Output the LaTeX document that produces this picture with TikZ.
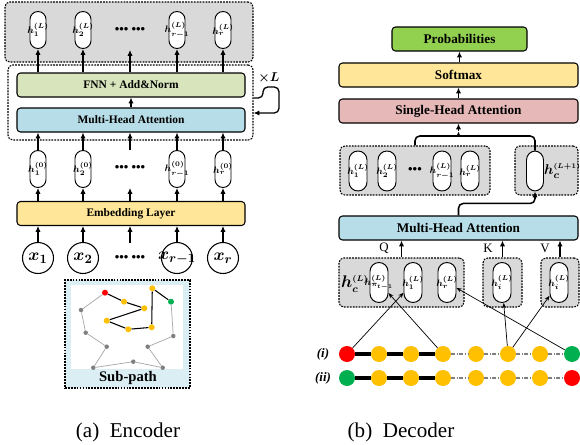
\documentclass[tikz,border=0pt]{standalone}
\usepackage{amsmath,amssymb}
\usepackage{fontspec}
\setmainfont{Liberation Serif}
\usepackage{tikz}
\usetikzlibrary{arrows.meta}
\def\u{0.03cm}
\definecolor{setgray}{HTML}{D9D9D9}
\definecolor{fnnc}{HTML}{D8E4BC}
\definecolor{attc}{HTML}{B7DEE8}
\definecolor{embc}{HTML}{FFE699}
\definecolor{shac}{HTML}{E6B9B8}
\definecolor{probc}{HTML}{92D050}
\definecolor{subbg}{HTML}{DAEEF3}
\definecolor{dred}{HTML}{FF0000}
\definecolor{dyel}{HTML}{FFC000}
\definecolor{dgrn}{HTML}{00B050}
\definecolor{dgray}{HTML}{808080}
\definecolor{lgray}{HTML}{A6A6A6}
% labels are kept zero-width so the ovals and circles keep their size
\newcommand{\hlab}[2]{\makebox[0pt]{$h^{(#2)}_{#1}$}}
\newcommand{\xlab}[1]{\makebox[0pt]{$x_{#1}$}}
\tikzset{
  box/.style={draw=black, line width=0.9pt, rounded corners=3pt, inner sep=0pt, minimum height=24*\u},
  encbox/.style={box, minimum width=228*\u, font=\fontsize{9.8}{11}\selectfont\bfseries},
  decbox/.style={box, minimum width=239*\u, font=\fontsize{11.3}{13}\selectfont\bfseries},
  setbox/.style={draw=black, fill=setgray, line width=0.9pt, dash pattern=on 1.5pt off 1pt, rounded corners=4pt, inner sep=0pt},
  oval/.style={draw=black, fill=white, line width=0.8pt, inner sep=0pt, minimum width=16*\u, minimum height=37*\u, rounded corners=0.24cm, font=\fontsize{8.5}{9}\selectfont\boldmath},
  doval/.style={oval, minimum width=18*\u, minimum height=40*\u, rounded corners=0.27cm},
  xcirc/.style={circle, draw=black, fill=white, line width=0.9pt, minimum size=31*\u, inner sep=0pt, font=\fontsize{15.5}{16}\selectfont\boldmath},
  dotrow/.style={font=\fontsize{11}{12}\selectfont\bfseries},
  arr/.style={-{Latex[length=5pt,width=4.5pt]}, line width=1.3pt},
  thinarr/.style={-{Stealth[length=4.5pt,width=3.5pt]}, line width=0.6pt},
  pt/.style={circle, inner sep=0pt, minimum size=6*\u},
  gpt/.style={circle, inner sep=0pt, minimum size=4.5*\u, fill=dgray},
  rowpt/.style={circle, inner sep=0pt, minimum size=16*\u},
  biglab/.style={font=\fontsize{13.5}{15}\selectfont\boldmath, inner sep=0pt},
  captext/.style={font=\fontsize{18}{20}\selectfont}
}
\begin{document}
\begin{tikzpicture}[x=\u, y=-\u]
  \useasboundingbox (0,0) rectangle (580,445);

  % ---------------- encoder ----------------
  \node[setbox, minimum width=248*\u, minimum height=60*\u] (eout) at (129,32) {};
  \node[draw=black, line width=0.9pt, dash pattern=on 1.5pt off 1pt, rounded corners=4pt,
        minimum width=245*\u, minimum height=75*\u] (eblk) at (130.5,102.5) {};
  \node[encbox, fill=fnnc] (fnn) at (131,85) {FNN + Add\&Norm};
  \node[encbox, fill=attc] (emha) at (131,120) {Multi-Head Attention};
  \node[encbox, fill=embc] (emb) at (131,213.5) {Embedding Layer};

  \foreach \n/\x/\s in {a/38/1, b/83/2, c/177/{r-1}, d/223/r}{
    \node[oval] (hL\n) at (\x,30) {\hlab{\s}{L}};
    \node[oval] (hz\n) at (\x,169) {\hlab{\s}{0}};
    \node[xcirc] (x\n) at (\x,258) {\xlab{\s}};
    \draw[arr] (fnn.north -| hL\n.south) -- (hL\n.south);
    \draw[arr] (hz\n.north) -- (emha.south -| hz\n.north);
    \draw[arr] (emb.north -| hz\n.south) -- (hz\n.south);
    \draw[arr] (x\n.north) -- (emb.south -| x\n.north);
  }
  \node[dotrow] (dL) at (130,30) {\textbullet\textbullet\textbullet\ \textbullet\textbullet\textbullet};
  \node[dotrow] (dz) at (130,168) {\textbullet\textbullet\textbullet\ \textbullet\textbullet\textbullet};
  \node[dotrow] (dx) at (130,258) {\textbullet\textbullet\textbullet\ \textbullet\textbullet\textbullet};
  \coordinate (mL) at (130,50);
  \coordinate (mz) at (130,150);
  \coordinate (mz2) at (130,188);
  \coordinate (mx) at (130,243);
  \draw[arr] (fnn.north -| mL) -- (mL);
  \draw[arr] (emha.north -| fnn.south) -- (fnn.south);
  \draw[arr] (mz) -- (emha.south -| mz);
  \draw[arr] (emb.north -| mz2) -- (mz2);
  \draw[arr] (mx) -- (emb.south -| mx);

  % repeat loop
  \node[font=\fontsize{11}{12}\selectfont\boldmath] (rep) at (269,78) {$\times L$};
  \draw[-{Latex[length=5pt,width=4.5pt]}, line width=1.1pt, rounded corners=4pt]
    (eblk.east |- 0,98) -- (263,98) -- (263,87) -- (279,87) -- (279,113) -- (eblk.east |- 0,113);

  % sub-path
  \node[draw=black, fill=subbg, line width=0.9pt, dash pattern=on 1.5pt off 1pt,
        minimum width=125*\u, minimum height=108*\u] (sub) at (127.5,334) {};
  \fill[white] (71,285) rectangle (183,369);
  \node[font=\fontsize{12.5}{14}\selectfont\bfseries] (subl) at (128,378) {Sub-path};
  \foreach \n/\x/\y in {g1/81/310, g2/85.7/332.7, g3/106.7/346.7, g4/93.3/367.7,
                        g5/133.3/361.7, g6/162.7/367.7, g7/147.7/346.7, g8/173.3/336}
    \node[gpt] (\n) at (\x,\y) {};
  \node[pt, fill=dred] (sr) at (105,292.7) {};
  \foreach \n/\x/\y in {s1/124/301.7, s2/144.3/308.3, s3/106.7/320.7, s4/128.3/329.3,
                        s5/151.7/327.3, s6/152.3/288.3}
    \node[pt, fill=dyel] (\n) at (\x,\y) {};
  \node[pt, fill=dgrn] (sg) at (171,301.7) {};
  \foreach \a/\b in {sr/g1, g1/g2, g2/g3, g3/g4, g4/g5, g5/g6, g6/g7, g7/g8, g8/sg}
    \draw[lgray, line width=0.6pt] (\a) -- (\b);
  \foreach \a/\b in {sr/s1, s1/s2, s2/s3, s3/s4, s4/s5, s5/s6, s6/sg}
    \draw[black, line width=0.9pt] (\a) -- (\b);

  % ---------------- decoder ----------------
  \node[box, fill=probc, minimum width=135*\u, font=\fontsize{11.3}{13}\selectfont\bfseries] (prob) at (459.5,39) {Probabilities};
  \node[decbox, fill=embc] (soft) at (458.5,75) {Softmax};
  \node[decbox, fill=shac] (sha) at (458.5,111) {Single-Head Attention};
  \draw[arr] (soft.north -| prob.south) -- (prob.south);
  \draw[arr] (sha.north) -- (soft.south);

  \node[setbox, minimum width=150*\u, minimum height=49*\u] (hset) at (415,170.5) {};
  \node[setbox, minimum width=63*\u, minimum height=49*\u] (hcbox) at (546.5,170.5) {};
  \foreach \n/\x/\s in {a/358/1, b/387/2, c/442/{r-1}, d/470/r}
    \node[doval] (ho\n) at (\x,171) {\hlab{\s}{L}};
  \node[dotrow] (dh) at (415,170) {\textbullet\textbullet\textbullet};
  \node[doval, minimum width=17*\u] (hcn) at (535,171) {};
  \node[biglab, font=\fontsize{13}{14}\selectfont\boldmath, anchor=west] (hcl) at (544,171) {$h_c^{\scriptscriptstyle(L+1)}$};

  % brace into single-head attention
  \coordinate (btip) at (458.5,131);
  \draw[line width=1.3pt, rounded corners=4pt] (hset.north) |- (453.5,136)
    .. controls (457.5,136) .. (btip) .. controls (459.5,136) .. (463.5,136) -| (hcn.north);
  \draw[arr] (btip) -- (sha.south);

  \node[decbox, fill=attc] (dmha) at (458.5,228) {Multi-Head Attention};
  \draw[arr, rounded corners=4pt] (dmha.north) -- ++(0,-12) -| (hcn.south);

  \node[setbox, minimum width=125*\u, minimum height=49*\u] (qbox) at (401.5,282.5) {};
  \node[setbox, minimum width=39*\u, minimum height=49*\u] (kbox) at (502.5,282.5) {};
  \node[setbox, minimum width=38*\u, minimum height=49*\u] (vbox) at (560,282.5) {};
  \node[biglab, anchor=west] (hcq) at (341,284) {$h_c^{\scriptscriptstyle(L)}$};
  \foreach \n/\x/\s in {a/379/{\pi_{t-1}}, b/413/1, c/447/r}
    \node[doval] (qo\n) at (\x,282.5) {\hlab{\s}{L}};
  \node[doval] (ko) at (502,282.5) {\hlab{i}{L}};
  \node[doval] (vo) at (559,282.5) {\hlab{i}{L}};
  \draw[arr] (qbox.north) -- (dmha.south -| qbox.north);
  \draw[arr] (kbox.north) -- (dmha.south -| kbox.north);
  \draw[arr] (vbox.north) -- (dmha.south -| vbox.north);
  \node[font=\fontsize{11}{12}\selectfont] (ql) at (384,248) {Q};
  \node[font=\fontsize{11}{12}\selectfont] (kl) at (488,248) {K};
  \node[font=\fontsize{11}{12}\selectfont] (vl) at (545,248) {V};

  % tour rows
  \node[font=\fontsize{11}{12}\selectfont\bfseries\itshape] (ri) at (323,354) {(i)};
  \node[font=\fontsize{11}{12}\selectfont\bfseries\itshape] (rii) at (323,378) {(ii)};
  \foreach \i/\x/\c/\d in {1/347/dred/dgrn, 2/379/dyel/dyel, 3/411/dyel/dyel, 4/443/dyel/dyel,
                           5/476/dyel/dyel, 6/508/dyel/dyel, 7/540/dyel/dyel, 8/572/dgrn/dred}{
    \node[rowpt, fill=\c] (a\i) at (\x,354) {};
    \node[rowpt, fill=\d] (b\i) at (\x,378) {};
  }
  \foreach \r in {a,b}{
    \foreach \p/\q in {1/2, 2/3, 3/4}
      \draw[line width=3.5pt] (\r\p) -- (\r\q);
    \foreach \p/\q in {4/5, 5/6, 6/7, 7/8}
      \draw[dgray, line width=1.1pt, dash pattern=on 3pt off 1.5pt on 1pt off 1.5pt] (\r\p) -- (\r\q);
  }
  \draw[thinarr] (a1) -- (qob);
  \draw[thinarr] (a4) -- (qoa);
  \draw[thinarr] (a8) -- (qoc);
  \draw[thinarr] (a6) -- (ko);
  \draw[thinarr] (a6) -- (vo);

  % captions
  \node[captext] (capa) at (128,432) {(a)\ \ Encoder};
  \node[captext] (capb) at (401,432) {(b)\ \ Decoder};
\end{tikzpicture}
\end{document}
